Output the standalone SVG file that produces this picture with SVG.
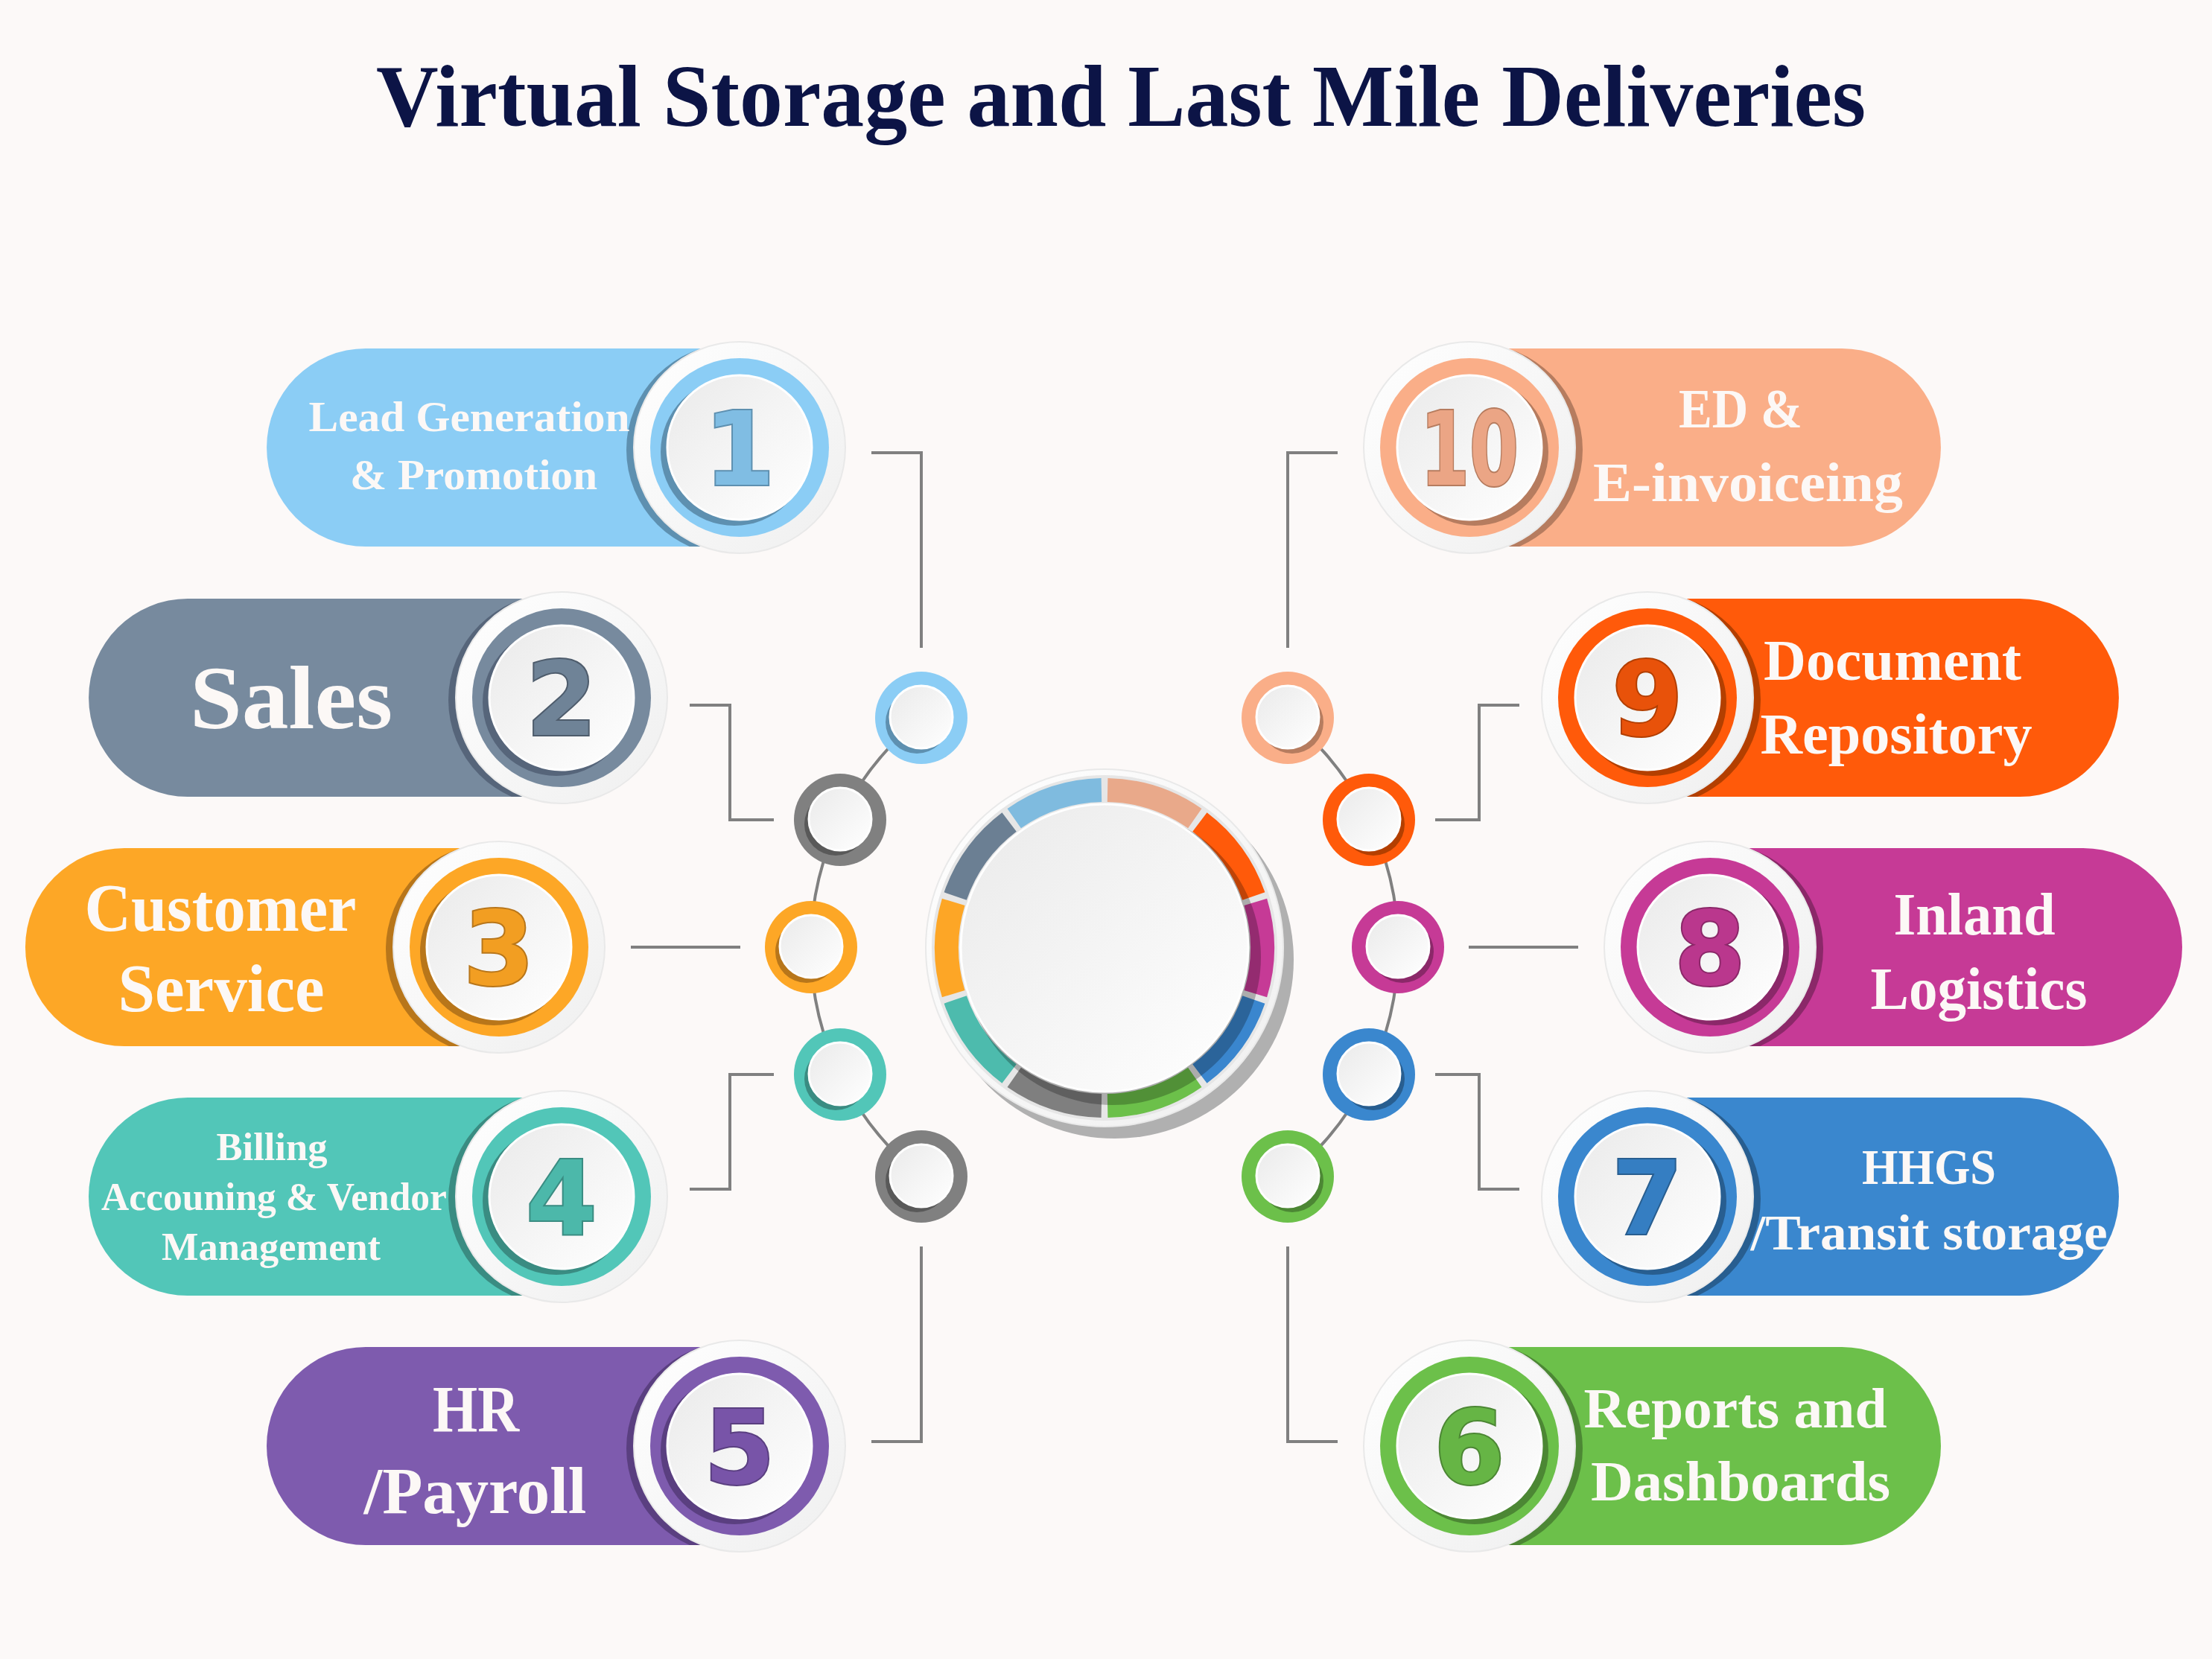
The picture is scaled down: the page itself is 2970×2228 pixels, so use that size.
<svg xmlns="http://www.w3.org/2000/svg" width="2970" height="2228" viewBox="0 0 2970 2228">
<style>
.lbl{font-family:"Liberation Serif","DejaVu Serif",serif;font-weight:bold;fill:#FCF8F6;text-anchor:middle}
.num{font-family:"DejaVu Sans","Liberation Sans",sans-serif;font-weight:bold;font-size:137px;text-anchor:middle;stroke-width:4;paint-order:stroke}
.conn{fill:none;stroke:#808080;stroke-width:4}
.disc{fill:url(#gDisc);stroke:#FFFFFF;stroke-width:3}
.outer{fill:url(#gOuter);stroke:#E9E9E9;stroke-width:2}
.seg{fill:none;stroke-width:32}
</style>
<defs>
<linearGradient id="gDisc" x1="0" y1="0" x2="1" y2="1"><stop offset="0" stop-color="#EAEAEA"/><stop offset="1" stop-color="#FFFFFF"/></linearGradient>
<linearGradient id="gOuter" x1="0" y1="0" x2="1" y2="1"><stop offset="0" stop-color="#FFFFFF"/><stop offset="1" stop-color="#EFEFEF"/></linearGradient>
<clipPath id="c1"><path d="M993,468 H491 A133,133 0 0 0 491,734 H993 Z"/></clipPath>
<clipPath id="c2"><path d="M754,804 H252 A133,133 0 0 0 252,1070 H754 Z"/></clipPath>
<clipPath id="c3"><path d="M670,1139 H167 A133,133 0 0 0 167,1405 H670 Z"/></clipPath>
<clipPath id="c4"><path d="M754,1474 H252 A133,133 0 0 0 252,1740 H754 Z"/></clipPath>
<clipPath id="c5"><path d="M993,1809 H491 A133,133 0 0 0 491,2075 H993 Z"/></clipPath>
<clipPath id="c10"><path d="M1973,468 H2473 A133,133 0 0 1 2473,734 H1973 Z"/></clipPath>
<clipPath id="c9"><path d="M2212,804 H2712 A133,133 0 0 1 2712,1070 H2212 Z"/></clipPath>
<clipPath id="c8"><path d="M2296,1139 H2797 A133,133 0 0 1 2797,1405 H2296 Z"/></clipPath>
<clipPath id="c7"><path d="M2212,1474 H2712 A133,133 0 0 1 2712,1740 H2212 Z"/></clipPath>
<clipPath id="c6"><path d="M1973,1809 H2473 A133,133 0 0 1 2473,2075 H1973 Z"/></clipPath>
</defs>
<rect width="2970" height="2228" fill="#FCF9F8"/>
<text id="title" x="1505" y="169" font-family="'Liberation Serif','DejaVu Serif',serif" font-weight="bold" font-size="118" fill="#0C1446" text-anchor="middle" textLength="2000" lengthAdjust="spacingAndGlyphs">Virtual Storage and Last Mile Deliveries</text>

<g id="connectors" class="conn">
<path d="M1237,964 A394,394 0 0 0 1237,1580"/>
<path d="M1729,964 A394,394 0 0 1 1729,1580"/>
<path d="M1170,608 H1237 V870"/>
<path d="M926,947 H980 V1101 H1039"/>
<path d="M847,1272 H994"/>
<path d="M926,1597 H980 V1443 H1039"/>
<path d="M1170,1936 H1237 V1674"/>
<path d="M1796,608 H1729 V870"/>
<path d="M2040,947 H1986 V1101 H1927"/>
<path d="M2119,1272 H1972"/>
<path d="M2040,1597 H1986 V1443 H1927"/>
<path d="M1796,1936 H1729 V1674"/>
</g>

<g id="hub">
<circle cx="1497" cy="1289" r="240" fill="#B0B0B0"/>
<circle cx="1483" cy="1273" r="240" class="outer"/>
<circle cx="1483" cy="1273" r="232" fill="#E6E6E6"/>
<path class="seg" stroke="#E9A98A" d="M1487.1,1061 A212,212 0 0 1 1604.3,1099.1"/>
<path class="seg" stroke="#FF5A0A" d="M1610.9,1103.9 A212,212 0 0 1 1683.3,1203.6"/>
<path class="seg" stroke="#C63A96" d="M1685.8,1211.4 A212,212 0 0 1 1685.8,1334.6"/>
<path class="seg" stroke="#3A86CE" d="M1683.3,1342.4 A212,212 0 0 1 1610.9,1442.1"/>
<path class="seg" stroke="#6CC04A" d="M1604.3,1446.9 A212,212 0 0 1 1487.1,1485"/>
<path class="seg" stroke="#7F7F7F" d="M1478.9,1485 A212,212 0 0 1 1361.7,1446.9"/>
<path class="seg" stroke="#4DBBAD" d="M1355.1,1442.1 A212,212 0 0 1 1282.7,1342.4"/>
<path class="seg" stroke="#FDA626" d="M1280.2,1334.6 A212,212 0 0 1 1280.2,1211.4"/>
<path class="seg" stroke="#6B7F93" d="M1282.7,1203.6 A212,212 0 0 1 1355.1,1103.9"/>
<path class="seg" stroke="#7FBBDF" d="M1361.7,1099.1 A212,212 0 0 1 1478.9,1061"/>
<circle cx="1494" cy="1285" r="199" fill="#000000" opacity="0.25"/>
<circle cx="1483" cy="1273" r="193" class="disc" stroke-width="4"/>
</g>

<g id="node-1">
<path d="M993,468 H491 A133,133 0 0 0 491,734 H993 Z" fill="#8BCDF5"/>
<circle cx="983" cy="604" r="142" fill="#5E90B0" clip-path="url(#c1)"/>
<circle cx="993" cy="601" r="142" class="outer"/>
<circle cx="993" cy="601" r="120" fill="#8BCDF5"/>
<circle cx="986" cy="607" r="99" fill="#5E90B0"/>
<circle cx="993" cy="601" r="97" class="disc"/>
<text class="num" x="993" y="651" fill="#80BDE3" stroke="#5E90B0">1</text>
<text class="lbl" x="630" y="579" font-size="58" textLength="431" lengthAdjust="spacingAndGlyphs">Lead Generation</text>
<text class="lbl" x="636" y="657" font-size="58" textLength="332" lengthAdjust="spacingAndGlyphs">&amp; Promotion</text>
<circle cx="1237" cy="964" r="62" fill="#8BCDF5"/>
<circle cx="1231" cy="970" r="42" fill="#5E90B0"/>
<circle cx="1237" cy="963" r="42" class="disc"/>
</g>

<g id="node-2">
<path d="M754,804 H252 A133,133 0 0 0 252,1070 H754 Z" fill="#778A9E"/>
<circle cx="744" cy="940" r="142" fill="#56657A" clip-path="url(#c2)"/>
<circle cx="754" cy="937" r="142" class="outer"/>
<circle cx="754" cy="937" r="120" fill="#778A9E"/>
<circle cx="747" cy="943" r="99" fill="#56657A"/>
<circle cx="754" cy="937" r="97" class="disc"/>
<text class="num" x="754" y="987" fill="#6F8397" stroke="#4E5C6C">2</text>
<text class="lbl" x="391" y="978" font-size="120" textLength="272" lengthAdjust="spacingAndGlyphs">Sales</text>
<circle cx="1128" cy="1101" r="62" fill="#808080"/>
<circle cx="1122" cy="1107" r="42" fill="#595959"/>
<circle cx="1128" cy="1100" r="42" class="disc"/>
</g>

<g id="node-3">
<path d="M670,1139 H167 A133,133 0 0 0 167,1405 H670 Z" fill="#FDA726"/>
<circle cx="660" cy="1275" r="142" fill="#B8761A" clip-path="url(#c3)"/>
<circle cx="670" cy="1272" r="142" class="outer"/>
<circle cx="670" cy="1272" r="120" fill="#FDA726"/>
<circle cx="663" cy="1278" r="99" fill="#B8761A"/>
<circle cx="670" cy="1272" r="97" class="disc"/>
<text class="num" x="670" y="1322" fill="#F29E22" stroke="#B8761A">3</text>
<text class="lbl" x="296" y="1250" font-size="90" textLength="365" lengthAdjust="spacingAndGlyphs">Customer</text>
<text class="lbl" x="297" y="1358" font-size="90" textLength="277" lengthAdjust="spacingAndGlyphs">Service</text>
<circle cx="1089" cy="1272" r="62" fill="#FDA726"/>
<circle cx="1083" cy="1278" r="42" fill="#B8761A"/>
<circle cx="1089" cy="1271" r="42" class="disc"/>
</g>

<g id="node-4">
<path d="M754,1474 H252 A133,133 0 0 0 252,1740 H754 Z" fill="#52C6B8"/>
<circle cx="744" cy="1610" r="142" fill="#3A8C82" clip-path="url(#c4)"/>
<circle cx="754" cy="1607" r="142" class="outer"/>
<circle cx="754" cy="1607" r="120" fill="#52C6B8"/>
<circle cx="747" cy="1613" r="99" fill="#3A8C82"/>
<circle cx="754" cy="1607" r="97" class="disc"/>
<text class="num" x="754" y="1657" fill="#4CB8AA" stroke="#3A8C82">4</text>
<text class="lbl" x="365" y="1558" font-size="52" textLength="149" lengthAdjust="spacingAndGlyphs">Billing</text>
<text class="lbl" x="368" y="1625" font-size="52" textLength="464" lengthAdjust="spacingAndGlyphs">Accouning &amp; Vendor</text>
<text class="lbl" x="364" y="1692" font-size="52" textLength="294" lengthAdjust="spacingAndGlyphs">Management</text>
<circle cx="1128" cy="1443" r="62" fill="#52C6B8"/>
<circle cx="1122" cy="1449" r="42" fill="#3A8C82"/>
<circle cx="1128" cy="1442" r="42" class="disc"/>
</g>

<g id="node-5">
<path d="M993,1809 H491 A133,133 0 0 0 491,2075 H993 Z" fill="#7E5BAE"/>
<circle cx="983" cy="1945" r="142" fill="#5A3F80" clip-path="url(#c5)"/>
<circle cx="993" cy="1942" r="142" class="outer"/>
<circle cx="993" cy="1942" r="120" fill="#7E5BAE"/>
<circle cx="986" cy="1948" r="99" fill="#5A3F80"/>
<circle cx="993" cy="1942" r="97" class="disc"/>
<text class="num" x="993" y="1992" fill="#7854A8" stroke="#5A3F80">5</text>
<text class="lbl" x="639" y="1922" font-size="88" textLength="116" lengthAdjust="spacingAndGlyphs">HR</text>
<text class="lbl" x="638" y="2032" font-size="88" textLength="299" lengthAdjust="spacingAndGlyphs">/Payroll</text>
<circle cx="1237" cy="1580" r="62" fill="#808080"/>
<circle cx="1231" cy="1586" r="42" fill="#595959"/>
<circle cx="1237" cy="1579" r="42" class="disc"/>
</g>

<g id="node-10">
<path d="M1973,468 H2473 A133,133 0 0 1 2473,734 H1973 Z" fill="#FAAE88"/>
<circle cx="1983" cy="604" r="142" fill="#B67C5F" clip-path="url(#c10)"/>
<circle cx="1973" cy="601" r="142" class="outer"/>
<circle cx="1973" cy="601" r="120" fill="#FAAE88"/>
<circle cx="1980" cy="607" r="99" fill="#B67C5F"/>
<circle cx="1973" cy="601" r="97" class="disc"/>
<text class="num" x="1973" y="651" fill="#EBA585" stroke="#B67C5F" textLength="132" lengthAdjust="spacingAndGlyphs">10</text>
<text class="lbl" x="2337" y="574" font-size="74" textLength="166" lengthAdjust="spacingAndGlyphs">ED &amp;</text>
<text class="lbl" x="2347" y="673" font-size="74" textLength="416" lengthAdjust="spacingAndGlyphs">E-invoiceing</text>
<circle cx="1729" cy="964" r="62" fill="#FAAE88"/>
<circle cx="1735" cy="970" r="42" fill="#B67C5F"/>
<circle cx="1729" cy="963" r="42" class="disc"/>
</g>

<g id="node-9">
<path d="M2212,804 H2712 A133,133 0 0 1 2712,1070 H2212 Z" fill="#FF5A0A"/>
<circle cx="2222" cy="940" r="142" fill="#B33F00" clip-path="url(#c9)"/>
<circle cx="2212" cy="937" r="142" class="outer"/>
<circle cx="2212" cy="937" r="120" fill="#FF5A0A"/>
<circle cx="2219" cy="943" r="99" fill="#B33F00"/>
<circle cx="2212" cy="937" r="97" class="disc"/>
<text class="num" x="2212" y="987" fill="#E8520A" stroke="#B33F00">9</text>
<text class="lbl" x="2541" y="913" font-size="78" textLength="346" lengthAdjust="spacingAndGlyphs">Document</text>
<text class="lbl" x="2546" y="1012" font-size="78" textLength="365" lengthAdjust="spacingAndGlyphs">Repository</text>
<circle cx="1838" cy="1101" r="62" fill="#FF5A0A"/>
<circle cx="1844" cy="1107" r="42" fill="#B33F00"/>
<circle cx="1838" cy="1100" r="42" class="disc"/>
</g>

<g id="node-8">
<path d="M2296,1139 H2797 A133,133 0 0 1 2797,1405 H2296 Z" fill="#C63A96"/>
<circle cx="2306" cy="1275" r="142" fill="#8B2869" clip-path="url(#c8)"/>
<circle cx="2296" cy="1272" r="142" class="outer"/>
<circle cx="2296" cy="1272" r="120" fill="#C63A96"/>
<circle cx="2303" cy="1278" r="99" fill="#8B2869"/>
<circle cx="2296" cy="1272" r="97" class="disc"/>
<text class="num" x="2296" y="1322" fill="#BA378D" stroke="#8B2869">8</text>
<text class="lbl" x="2651" y="1255" font-size="80" textLength="217" lengthAdjust="spacingAndGlyphs">Inland</text>
<text class="lbl" x="2657" y="1355" font-size="80" textLength="291" lengthAdjust="spacingAndGlyphs">Logistics</text>
<circle cx="1877" cy="1272" r="62" fill="#C63A96"/>
<circle cx="1883" cy="1278" r="42" fill="#8B2869"/>
<circle cx="1877" cy="1271" r="42" class="disc"/>
</g>

<g id="node-7">
<path d="M2212,1474 H2712 A133,133 0 0 1 2712,1740 H2212 Z" fill="#3A87CE"/>
<circle cx="2222" cy="1610" r="142" fill="#285E90" clip-path="url(#c7)"/>
<circle cx="2212" cy="1607" r="142" class="outer"/>
<circle cx="2212" cy="1607" r="120" fill="#3A87CE"/>
<circle cx="2219" cy="1613" r="99" fill="#285E90"/>
<circle cx="2212" cy="1607" r="97" class="disc"/>
<text class="num" x="2212" y="1657" fill="#357EC2" stroke="#285E90">7</text>
<text class="lbl" x="2590" y="1590" font-size="68" textLength="180" lengthAdjust="spacingAndGlyphs">HHGS</text>
<text class="lbl" x="2590" y="1678" font-size="68" textLength="479" lengthAdjust="spacingAndGlyphs">/Transit storage</text>
<circle cx="1838" cy="1443" r="62" fill="#3A87CE"/>
<circle cx="1844" cy="1449" r="42" fill="#285E90"/>
<circle cx="1838" cy="1442" r="42" class="disc"/>
</g>

<g id="node-6">
<path d="M1973,1809 H2473 A133,133 0 0 1 2473,2075 H1973 Z" fill="#6CC04A"/>
<circle cx="1983" cy="1945" r="142" fill="#4C8734" clip-path="url(#c6)"/>
<circle cx="1973" cy="1942" r="142" class="outer"/>
<circle cx="1973" cy="1942" r="120" fill="#6CC04A"/>
<circle cx="1980" cy="1948" r="99" fill="#4C8734"/>
<circle cx="1973" cy="1942" r="97" class="disc"/>
<text class="num" x="1973" y="1992" fill="#66B545" stroke="#4C8734">6</text>
<text class="lbl" x="2330" y="1917" font-size="76" textLength="407" lengthAdjust="spacingAndGlyphs">Reports and</text>
<text class="lbl" x="2337" y="2015" font-size="76" textLength="402" lengthAdjust="spacingAndGlyphs">Dashboards</text>
<circle cx="1729" cy="1580" r="62" fill="#6CC04A"/>
<circle cx="1735" cy="1586" r="42" fill="#4C8734"/>
<circle cx="1729" cy="1579" r="42" class="disc"/>
</g>
</svg>
